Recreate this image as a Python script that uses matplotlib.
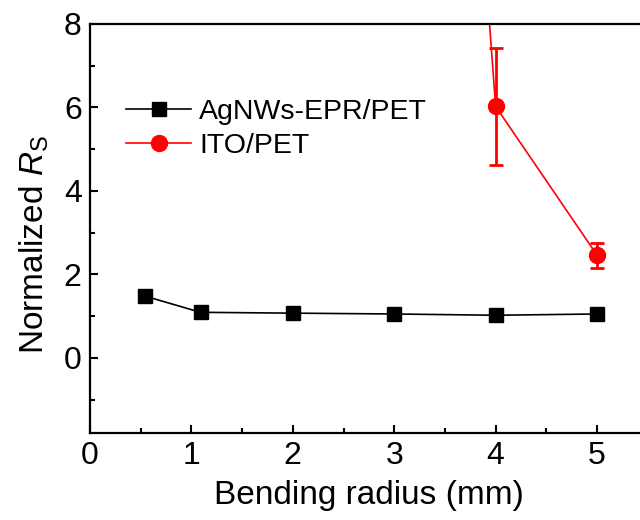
import matplotlib
matplotlib.use("Agg")
import matplotlib.pyplot as plt
from matplotlib.ticker import MultipleLocator

plt.rcParams['font.family'] = ['Liberation Sans', 'DejaVu Sans']
plt.rcParams['mathtext.fontset'] = 'custom'
plt.rcParams['mathtext.rm'] = 'Liberation Sans'
plt.rcParams['mathtext.it'] = 'Liberation Sans:italic'

# data
ag_x = [0.54, 1.09, 2.0, 3.0, 4.0, 5.0]
ag_y = [1.48, 1.09, 1.07, 1.05, 1.02, 1.05]
ag_err = [0.08, 0.05, 0.04, 0.04, 0.04, 0.04]

ito_x = [3.0, 4.0, 5.0]
ito_y = [39.0, 6.02, 2.46]
ito_err = [0.0, 1.4, 0.3]

fig = plt.figure(figsize=(6.4, 5.2), dpi=100)
ax = fig.add_axes([0.1406, 0.1673, 0.8715, 0.787])

ax.errorbar(ag_x, ag_y, yerr=ag_err, color='black', ecolor='#555555', marker='s',
            markersize=10, linewidth=1.2, elinewidth=1.2, capsize=3, label='AgNWs-EPR/PET')
ax.errorbar(ito_x, ito_y, yerr=ito_err, color='#ff0000', marker='o', markersize=11.5,
            linewidth=1.2, elinewidth=2, capsize=5, capthick=2, label='ITO/PET')

ax.set_xlim(0, 5.5)
ax.set_ylim(-1.8, 8)
ax.xaxis.set_major_locator(MultipleLocator(1))
ax.xaxis.set_minor_locator(MultipleLocator(0.5))
ax.yaxis.set_major_locator(MultipleLocator(2))
ax.yaxis.set_minor_locator(MultipleLocator(1))
ax.tick_params(which='both', direction='in', width=1.5, labelsize=23)
ax.tick_params(which='major', length=6, pad=6)
ax.tick_params(which='minor', length=3.5)
for s in ax.spines.values():
    s.set_linewidth(1.6)

ax.set_xlabel('Bending radius (mm)', fontsize=24, labelpad=6)
ax.set_ylabel(r'Normalized $R_\mathrm{S}$', fontsize=24)
ax.yaxis.set_label_coords(-0.07, 0.46)

handles, labels = ax.get_legend_handles_labels()
handles = [h[0] for h in handles]
ax.legend(handles, labels, loc='upper left', bbox_to_anchor=(0.045, 0.845), frameon=False,
          fontsize=20.5, handlelength=2.25, handletextpad=0.3, labelspacing=0.3, borderaxespad=0)

fig.savefig('out.png', dpi=100)
